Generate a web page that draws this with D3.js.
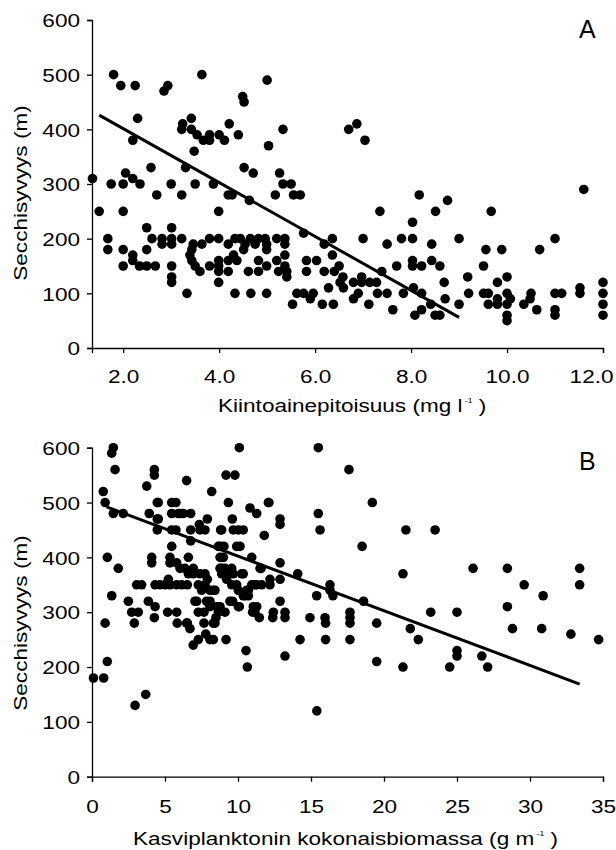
<!DOCTYPE html>
<html>
<head>
<meta charset="utf-8">
<script src="https://cdn.jsdelivr.net/npm/d3@7"></script>
<style>
  body { margin: 0; background: #fff; }
  svg text { font-family: "Liberation Sans", Arial, sans-serif; fill: #000; }
  .tick text { font-size: 18.5px; }
</style>
</head>
<body>
<div id="vis"></div>
<script>
// Panel A: suspended solids (mg/l) vs Secchi depth
const pointsA = [
  [1.36,310],[1.8,500],[1.95,480],[2.25,480],[2.3,420],[2.2,380],[2.05,320],[1.75,300],[2.0,300],[2.2,310],
  [2.35,300],[2.58,330],[2.7,280],[2.85,470],[2.93,480],[3.0,300],[3.22,280],[3.22,400],[3.24,410],[3.3,330],
  [3.42,420],[3.42,400],[3.48,360],[3.54,390],[3.5,300],[3.64,500],[3.67,380],[3.8,380],[3.8,390],[3.88,300],
  [4.0,390],[4.11,380],[4.21,410],[4.19,280],[4.27,280],[4.4,390],[4.49,460],[4.52,450],[4.52,330],[4.63,270],
  [4.71,320],[5.0,490],[5.03,370],[5.33,400],[5.26,320],[5.17,280],[5.33,300],[5.5,300],[5.55,280],[5.69,280],
  [6.7,400],[6.87,410],[7.04,380],[8.17,280],[8.76,270],[11.6,290],
  [1.5,250],[2.0,250],[3.99,250],[7.35,250],[8.51,250],[9.67,250],[8.03,230],[2.49,220],[3.01,220],[5.76,210],
  [1.68,200],[2.6,200],[2.81,200],[3.01,200],[3.22,200],[3.8,200],[3.99,200],[4.33,200],[4.44,200],[4.65,200],
  [4.82,200],[4.96,200],[5.2,200],[5.37,200],[6.36,200],[7.0,200],[7.8,200],[8.03,200],[9.0,200],[11.0,200],
  [2.81,190],[3.01,190],[3.46,190],[3.64,190],[4.19,190],[4.54,190],[4.75,190],[4.99,190],[5.37,190],[6.19,190],
  [7.5,190],[8.43,190],[1.68,180],[2.0,180],[2.49,180],[3.43,180],[4.51,180],[4.99,180],[9.56,180],[9.89,180],
  [10.68,180],[2.2,170],[3.39,170],[4.3,170],[5.37,170],[6.36,170],[2.2,160],[3.43,160],[3.99,160],[4.19,160],
  [4.37,160],[4.82,160],[5.2,160],[5.82,160],[6.03,160],[8.03,160],[8.43,160],
  [2.0,150],[2.34,150],[2.49,150],[2.67,150],[3.01,150],[3.5,150],[3.8,150],[3.99,150],[4.99,150],[5.37,150],
  [6.5,150],[7.7,150],[8.03,150],[8.22,150],[8.6,150],[9.51,150],[3.6,140],[3.99,140],[4.19,140],[4.61,140],
  [4.82,140],[5.24,140],[5.41,140],[5.82,140],[6.19,140],[6.4,140],[7.39,140],[3.01,130],[5.41,130],[6.58,130],
  [6.97,130],[9.18,130],[10.0,130],[3.01,120],[3.99,120],[6.52,120],[6.8,120],[6.97,120],[7.14,120],[7.28,120],
  [8.69,120],[9.8,120],[12.0,120],[6.28,110],[6.59,110],[8.05,110],[11.52,110],
  [3.33,100],[4.33,100],[4.66,100],[4.99,100],[5.62,100],[5.76,100],[5.96,100],[6.9,100],[7.3,100],[7.5,100],
  [7.84,100],[8.22,100],[9.2,100],[9.51,100],[9.61,100],[10.0,100],[10.5,100],[11.0,100],[11.14,100],[11.52,100],
  [12.0,100],[5.9,90],[6.8,90],[8.71,90],[9.8,90],[10.07,90],[10.48,90],[5.53,80],[6.15,80],[6.38,80],
  [7.12,80],[8.41,80],[9.0,80],[9.61,80],[9.8,80],[10.0,80],[10.35,80],[12.0,80],[7.62,70],[8.22,70],
  [10.62,70],[11.0,70],[8.08,60],[8.5,60],[8.6,60],[10.0,60],[11.0,60],[12.0,60],[10.0,50]
];
const trendA = [[1.5,426],[9.0,56]];
const xTicksA = [2,4,6,8,10,12];

// Panel B: phytoplankton biomass vs Secchi depth
const pointsB = [
  [0.1,180],[0.8,180],[1.05,210],[0.9,280],[2.95,130],[3.68,150],
  [1.46,600],[1.35,590],[1.58,560],[0.77,520],[0.9,500],[1.46,480],[2.14,480],[1.05,400],[1.8,380],[1.35,330],
  [2.49,320],[2.72,300],[3.17,300],[2.9,280],[3.06,350],[3.4,350],[3.75,530],[3.92,480],[4.09,400],[4.09,390],
  [3.86,320],[4.27,560],[4.27,550],[4.47,500],[4.47,470],[4.47,450],[4.32,310],[4.27,290],[4.32,350],[4.66,350],
  [5.0,350],[5.23,360],[5.18,300],[4.54,500],[4.54,470],[5.46,500],[5.75,500],[5.46,480],[6.03,480],[5.91,480],
  [6.25,480],[5.46,450],[5.75,450],[5.46,420],[5.34,400],[5.34,390],[5.8,390],[5.8,300],[5.84,280],[5.34,350],
  [5.8,350],[6.14,350],[6.53,350],[6.48,540],[6.76,480],[6.76,450],[6.76,430],[6.6,400],[6.03,380],[6.37,380],
  [6.6,370],[6.94,380],[6.94,370],[6.48,280],[6.71,270],[6.53,280],[6.93,240],[7.28,250],[7.28,300],[7.17,320],
  [7.05,320],[7.35,460],[7.4,450],[7.74,450],[7.9,470],[8.2,520],[7.4,370],[7.74,370],[7.51,340],[7.28,350],
  [7.74,350],[7.9,360],[8.08,320],[7.85,320],[8.08,310],[8.08,340],[8.42,340],[8.31,340],[8.54,310],[8.65,310],
  [8.49,290],[7.67,300],[7.67,280],[7.79,260],[8.08,250],[8.31,250],[8.31,280],[8.42,280],[8.65,300],[8.77,310],
  [9.11,300],[9.18,250],
  [8.81,450],[8.88,450],[8.65,420],[8.77,420],[9.04,420],[8.77,400],[9.0,400],[8.88,380],[8.88,370],[8.77,380],
  [9.11,380],[9.11,370],[9.18,550],[9.79,550],[9.34,500],[9.61,470],[9.68,450],[10.02,450],[10.36,450],[9.91,420],
  [10.14,420],[9.57,380],[9.68,370],[10.25,370],[10.36,370],[9.22,360],[9.57,350],[9.91,350],[10.02,340],[9.45,320],
  [9.63,320],[10.02,310],[10.09,310],[10.09,600],[10.82,490],[11.28,480],[10.94,400],[10.71,340],[10.6,340],[10.48,330],
  [10.71,330],[10.36,330],[10.94,350],[11.28,350],[11.62,350],[11.16,350],[11.51,380],[11.58,380],[11.28,310],[11.16,300],
  [11.05,310],[11.46,290],[11.0,300],[10.55,230],[10.64,200],
  [11.8,440],[12.08,500],[12.12,500],[12.19,360],[12.19,350],[12.88,470],[12.88,460],[12.88,390],[12.88,360],[12.88,320],
  [12.42,300],[12.38,290],[13.22,300],[13.22,290],[13.22,220],[14.09,370],[14.93,290],[14.25,250],
  [15.5,600],[15.5,480],[15.62,450],[15.39,330],[15.4,120],[16.3,350],[16.3,340],[16.5,330],[15.96,290],[16.0,280],
  [16.0,250],[17.6,560],[17.67,300],[17.67,290],[17.67,280],[17.67,250],[18.5,420],[18.6,320],[19.2,500],[19.5,280],
  [19.5,210],[21.5,450],[21.3,370],[21.3,200],[21.8,270],[22.35,250],[23.5,450],[23.2,300],[25.0,300],[25.0,230],
  [25.0,220],[24.5,200],[26.1,380],[26.7,220],[27.1,200],[28.45,380],[28.45,310],[28.8,270],[29.6,350],[30.9,330],
  [30.8,270],[32.8,260],[33.4,380],[33.4,350],[34.7,250]
];
const trendB = [[1.0,492],[33.4,169]];
const xTicksB = [0,5,10,15,20,25,30,35];

const yTicks = [0,100,200,300,400,500,600];

const STRETCH = 1.22; // glyphs in the original are drawn wide

const svg = d3.select("#vis")
  .append("svg")
  .attr("width", 616)
  .attr("height", 850);

function drawPanel(cfg) {
  const x = d3.scaleLinear().domain(cfg.xDomain).range([92, 603]);
  const y = d3.scaleLinear().domain([0, 600]).range([cfg.bottom, cfg.top]);
  const g = svg.append("g");

  // Axes
  const yAxis = g.append("g")
    .attr("transform", "translate(92,0)")
    .call(d3.axisLeft(y).tickValues(yTicks).tickSize(5).tickSizeOuter(5).tickPadding(7));
  yAxis.selectAll(".tick text")
    .attr("x", -12 / STRETCH)
    .attr("dy", "0.36em")
    .attr("transform", `scale(${STRETCH},1)`);

  const xAxis = g.append("g")
    .attr("transform", `translate(0,${cfg.bottom})`)
    .call(d3.axisBottom(x).tickValues(cfg.xTicks).tickFormat(cfg.xFormat)
      .tickSize(5).tickSizeOuter(5).tickPadding(cfg.xPad));
  xAxis.selectAll(".tick text").attr("transform", `scale(${STRETCH},1)`);

  // keep the last label inside the page edge
  const last = cfg.xTicks[cfg.xTicks.length - 1];
  xAxis.selectAll(".tick text")
    .filter(d => d === last && cfg.clampLast)
    .attr("text-anchor", "end")
    .attr("x", (613 - x(last)) / STRETCH);

  g.selectAll(".domain, .tick line").attr("stroke-width", 1.3);

  // Points
  g.append("g")
    .selectAll("circle")
    .data(cfg.points)
    .join("circle")
    .attr("cx", d => x(d[0]))
    .attr("cy", d => y(d[1]))
    .attr("r", 4.8)
    .attr("fill", "#000");

  // Trend line
  g.append("path")
    .datum(cfg.trend)
    .attr("fill", "none")
    .attr("stroke", "#000")
    .attr("stroke-width", 3)
    .attr("d", d3.line().x(d => x(d[0])).y(d => y(d[1])));

  // Y title
  g.append("text")
    .attr("transform", `translate(27,${cfg.yTitleMid}) rotate(-90) scale(${STRETCH},1)`)
    .attr("text-anchor", "middle")
    .style("font-size", "18.5px")
    .text("Secchisyvyys (m)");

  // X title with superscript
  const xt = g.append("text")
    .attr("transform", `translate(${cfg.xTitleX},${cfg.xTitleY}) scale(${STRETCH},1)`)
    .style("font-size", "18.5px");
  xt.append("tspan").text(cfg.xTitle);
  xt.append("tspan").attr("dy", -9).style("font-size", "7px").text(" -1");
  xt.append("tspan").attr("dy", 9).text(" )");

  // Panel letter
  g.append("text")
    .attr("x", 579)
    .attr("y", cfg.letterY)
    .style("font-size", "25px")
    .text(cfg.letter);
}

drawPanel({
  points: pointsA, trend: trendA, xDomain: [1.35, 12], xTicks: xTicksA,
  xFormat: d3.format(".1f"), top: 20, bottom: 348, xPad: 17, clampLast: true,
  yTitleMid: 193, xTitle: "Kiintoainepitoisuus (mg l", xTitleX: 218, xTitleY: 412,
  letter: "A", letterY: 38
});

drawPanel({
  points: pointsB, trend: trendB, xDomain: [0, 35], xTicks: xTicksB,
  xFormat: d3.format("d"), top: 447.7, bottom: 776.7, xPad: 18.5, clampLast: false,
  yTitleMid: 623, xTitle: "Kasviplanktonin kokonaisbiomassa (g m", xTitleX: 133, xTitleY: 845,
  letter: "B", letterY: 470
});
</script>
</body>
</html>
